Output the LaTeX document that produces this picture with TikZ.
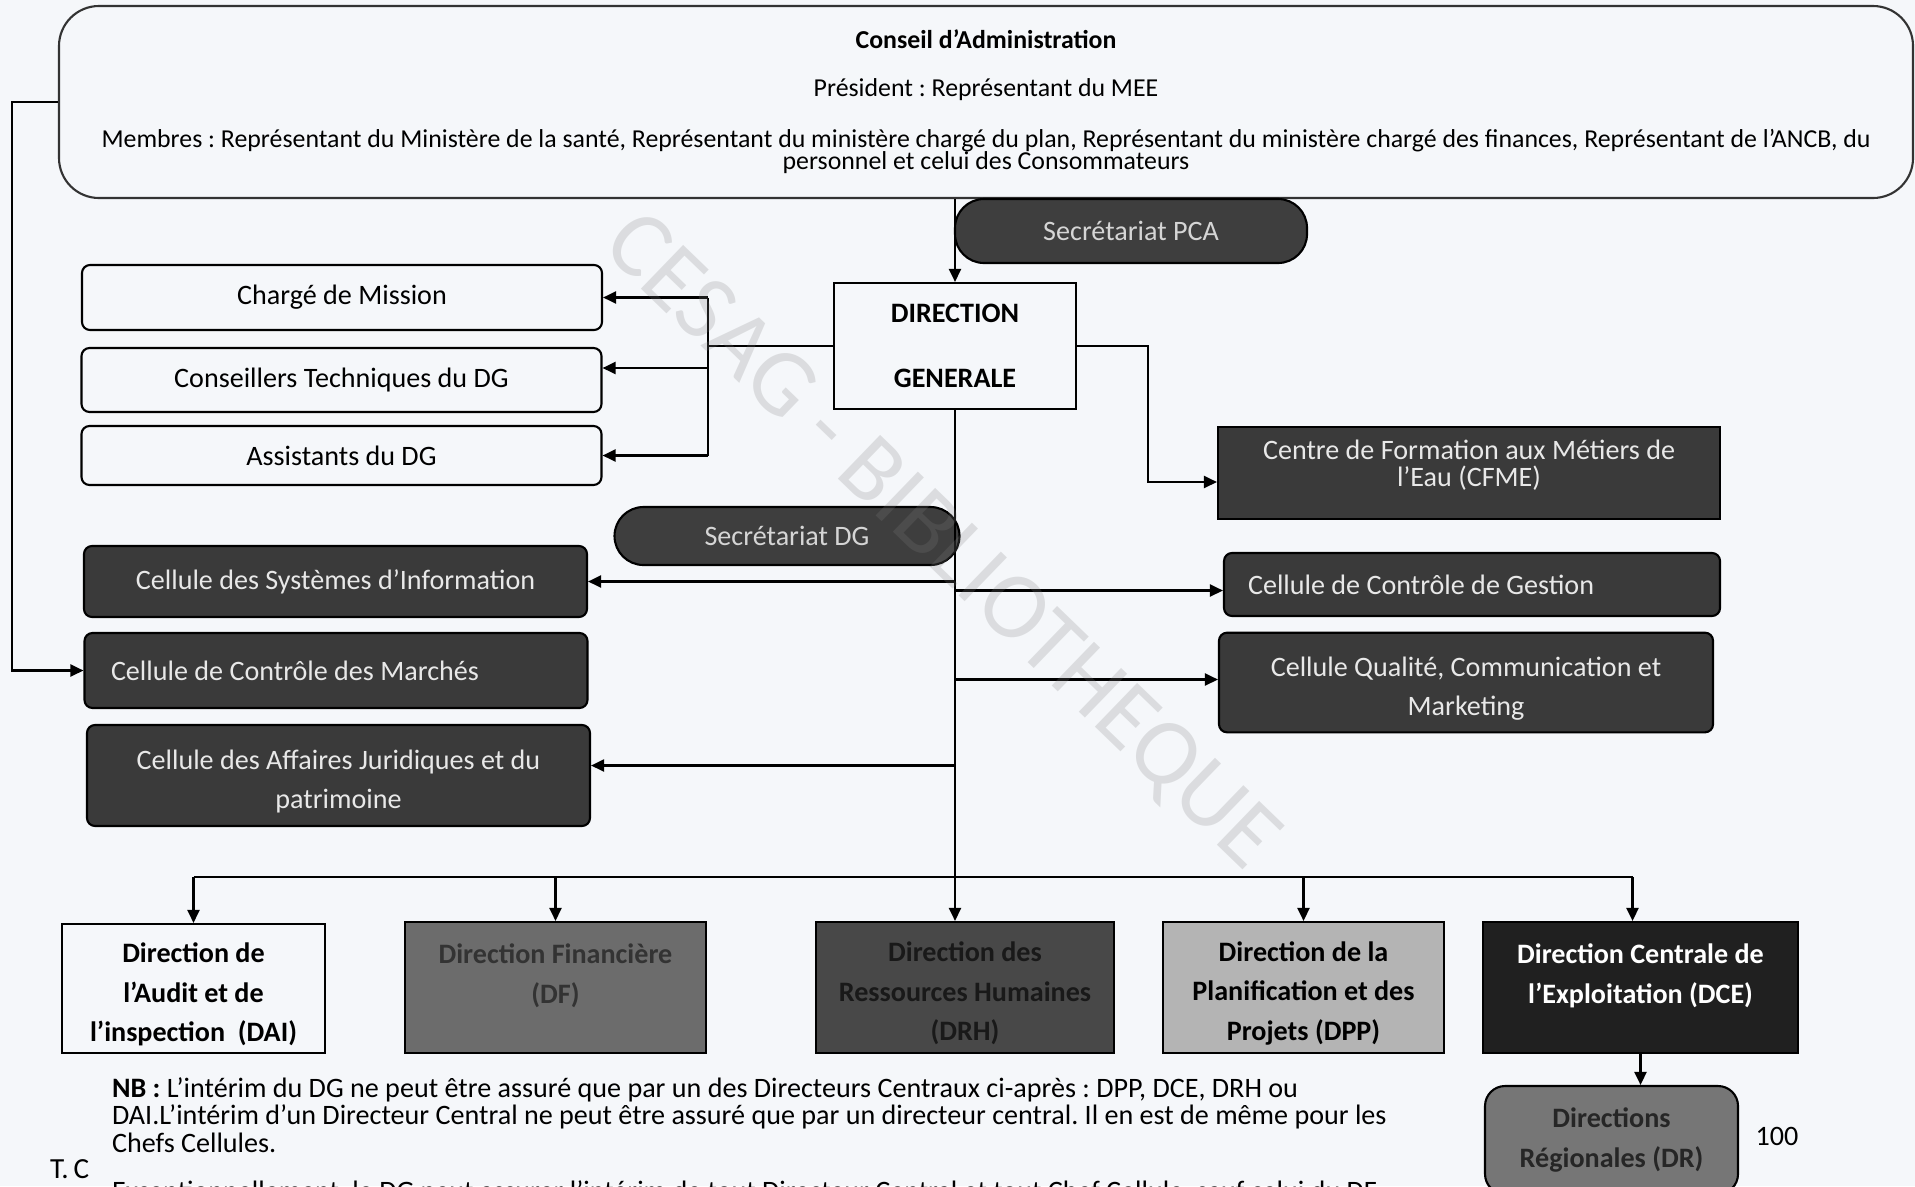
\documentclass[tikz,border=0pt]{standalone}
\usepackage{fontspec}
\setmainfont{Carlito}
\usetikzlibrary{arrows.meta}

\definecolor{pagebg}{RGB}{245,247,250}
\definecolor{cellgray}{RGB}{58,58,58}
\definecolor{celltext}{RGB}{232,232,232}
\definecolor{pillgray}{RGB}{62,62,62}
\definecolor{dfgray}{RGB}{108,108,108}
\definecolor{drhgray}{RGB}{72,72,72}
\definecolor{dppgray}{RGB}{180,180,180}
\definecolor{dcegray}{RGB}{32,32,32}
\definecolor{drgray}{RGB}{118,118,118}

% natural word spaces also in aligned nodes
\newcommand{\natspace}{\spaceskip=0pt\xspaceskip=0pt\relax}
\newcommand{\orgfont}{\fontsize{8}{11.3}\selectfont\natspace}
\newcommand{\topfont}{\fontsize{7.35}{6.3}\selectfont\natspace\lineskiplimit=-10pt\lineskip=0pt\relax}
\newcommand{\notefont}{\fontsize{8}{7.7}\selectfont\natspace}
\newcommand{\lowstrut}{\rule{0pt}{9pt}}
\frenchspacing

\begin{document}
\begin{tikzpicture}[
	font=\orgfont,
	line width=0.6pt,
	arr/.style={-{Triangle[length=1.3mm,width=1.2mm]}},
	whitecell/.style={draw, rounded corners=0.8mm, minimum width=5.2cm},
	darkcell/.style={draw, fill=cellgray, text=celltext, rounded corners=0.8mm, minimum width=5.03cm},
	pill/.style={draw, fill=pillgray, text=celltext!92!black, rounded corners=2.9mm},
	dirbox/.style={draw, font=\orgfont\bfseries, align=center, inner ysep=0pt, minimum height=1.31cm},
	]
	% page, bottom to top is negative y
	\path[use as bounding box, fill=pagebg] (0,0) rectangle (19.15,-11.86);
	
	% Conseil d'Administration
	\node[draw=black!80, rounded corners=4mm, minimum width=18.54cm, minimum height=1.92cm, font=\topfont, align=flush center, text width=18.3cm] (CA) at (9.86,-1.02) {\textbf{Conseil d’Administration}\\[7.4pt]
		Président : Représentant du MEE\\[8.2pt]
		Membres : Représentant du Ministère de la santé, Représentant du ministère chargé du plan, Représentant du ministère chargé des finances, Représentant de l’ANCB, du\\
		personnel et celui des Consommateurs};
	
	\node[pill, minimum width=3.52cm, minimum height=0.64cm] (PCA) at (11.31,-2.31) {Secrétariat PCA};
	
	% Direction generale
	\node[draw, font=\orgfont\bfseries, align=center, minimum width=2.42cm, minimum height=1.26cm] (DG) at (9.55,-3.46) {DIRECTION\\[7.2pt] GENERALE};
	\draw[arr] (DG.north |- CA.south) -- (DG.north);
	
	% Cells attached to the DG (left)
	\node[whitecell, minimum height=0.65cm] (CM) at (3.42,-2.975) {Chargé de Mission};
	\node[whitecell, minimum height=0.64cm] (CT) at (3.415,-3.80) {Conseillers Techniques du DG};
	\node[whitecell, minimum height=0.59cm] (AS) at (3.415,-4.555) {Assistants du DG};
	
	\coordinate (jl) at (7.08,-3.46);
	\coordinate (cte) at ([yshift=1.2mm]CT.east);
	\draw (DG.west) -- (jl);
	\draw (jl |- CM.east) -- (jl |- AS.east);
	\draw[arr] (jl |- CM.east) -- (CM.east);
	\draw[arr] (jl |- cte) -- (cte);
	\draw[arr] (jl |- AS.east) -- (AS.east);
	
	% CFME
	\node[draw, fill=cellgray, text=celltext, minimum width=5.02cm, minimum height=0.92cm, align=center, font=\fontsize{8}{7.6}\selectfont\natspace] (CFME) at (14.69,-4.73) {Centre de Formation aux Métiers de\\ l’Eau (CFME)\\[-2pt]\mbox{}};
	\coordinate (jr) at (11.48,-3.46);
	\coordinate (cfw) at ([yshift=-0.9mm]CFME.west);
	\draw[arr] (DG.east) -- (jr) |- (cfw);
	
	% Secretariat DG
	\node[pill, minimum width=3.45cm, minimum height=0.58cm] (SDG) at (7.87,-5.36) {Secrétariat DG};
	
	% Cellules
	\node[darkcell, minimum height=0.71cm] (CSI) at (3.355,-5.815) {Cellule des Systèmes d’Information};
	\node[darkcell, minimum height=0.75cm, text width=4.5cm, align=flush left, inner xsep=0.26cm] (CCM) at (3.36,-6.705) {Cellule de Contrôle des Marchés};
	\node[darkcell, minimum height=1.01cm, align=center] (CAJ) at (3.385,-7.755) {\lowstrut Cellule des Affaires Juridiques et du\\ patrimoine};
	\node[darkcell, minimum width=4.96cm, minimum height=0.63cm, text width=4.48cm, align=flush left, inner xsep=0.24cm] (CCG) at (14.72,-5.845) {Cellule de Contrôle de Gestion};
	\node[darkcell, minimum width=4.94cm, minimum height=0.99cm, align=center] (CQ) at (14.66,-6.825) {\lowstrut Cellule Qualité, Communication et\\ Marketing};
	
	\coordinate (cajE) at ([yshift=1mm]CAJ.east);
	\coordinate (ccgW) at ([yshift=-0.6mm]CCG.west);
	\coordinate (cqW) at ([yshift=0.3mm]CQ.west);
	\draw[arr] (DG.south |- CSI.east) -- (CSI.east);
	\draw[arr] (DG.south |- cajE) -- (cajE);
	\draw[arr] (DG.south |- ccgW) -- (ccgW);
	\draw[arr] (DG.south |- cqW) -- (cqW);
	
	% Feedback from the board to the Cellule de Controle des Marches
	\coordinate (fb) at (0.12,-1.02);
	\draw[arr] (CA.west) -- (fb) |- (CCM.west);
	
	%% Directions %%
	\node[dirbox, minimum width=2.63cm, minimum height=1.29cm] (DAI) at (1.935,-9.885) {\lowstrut Direction de\\ l’Audit et de\\ l’inspection~ (DAI)};
	\node[dirbox, fill=dfgray, text=black!80, minimum width=3.01cm] (DF) at (5.555,-9.875) {\lowstrut Direction Financière\\ (DF)\\ \mbox{}};
	\node[dirbox, fill=drhgray, text=black!90, minimum width=2.98cm] (DRH) at (9.65,-9.875) {\lowstrut Direction des\\ Ressources Humaines\\ (DRH)};
	\node[dirbox, fill=dppgray, minimum width=2.81cm] (DPP) at (13.035,-9.875) {\lowstrut Direction de la\\ Planification et des\\ Projets (DPP)};
	\node[dirbox, fill=dcegray, text=white, minimum width=3.15cm] (DCE) at (16.405,-9.875) {\lowstrut Direction Centrale de\\ l’Exploitation (DCE)\\ \mbox{}};
	\node[draw, font=\orgfont\bfseries, align=center, fill=drgray, text=black!85, rounded corners=2mm, minimum width=2.53cm, minimum height=1.08cm] (DR) at (16.115,-11.40) {Directions\\ Régionales (DR)};
	
	\coordinate (bus) at (9.55,-8.77);
	\coordinate (dcen) at ([xshift=-0.8mm]DCE.north);
	\draw (bus -| DAI.north) -- (bus -| dcen);
	\draw[arr] (DG.south) -- (DG.south |- DRH.north);
	\foreach \d in {DAI,DF,DPP}
	\draw[arr] (bus -| \d.north) -- (\d.north);
	\draw[arr] (bus -| dcen) -- (dcen);
	\draw[arr] (DCE.south) -- (DCE.south |- DR.north);
	
	% Note and page number
	\node[font=\notefont, align=left, anchor=north west, inner sep=0pt] (NB) at (1.11,-10.77) {\textbf{NB :} L’intérim du DG ne peut être assuré que par un des Directeurs Centraux ci-après : DPP, DCE, DRH ou\\
		DAI.L’intérim d’un Directeur Central ne peut être assuré que par un directeur central. Il en est de même pour les\\
		Chefs Cellules.};
	\node[font=\fontsize{8}{9}\selectfont, inner sep=0pt] (PG) at (17.77,-11.36) {100};
	\node[font=\fontsize{8.3}{9}\selectfont, anchor=base west, inner sep=0pt] (TC) at (0.49,-11.78) {T.\,C};
	\node[font=\notefont, anchor=base west, inner sep=0pt] (EX) at (1.11,-12.00) {Exceptionnellement, le DG peut assurer l’intérim de tout Directeur Central et tout Chef Cellule, sauf celui du DF};
	
	% watermark
	\node[rotate=-44, font=\fontsize{27}{27}\selectfont, text=gray, opacity=0.22] (WM) at (9.40,-5.43) {CESAG - BIBLIOTHEQUE};
\end{tikzpicture}
\end{document}
